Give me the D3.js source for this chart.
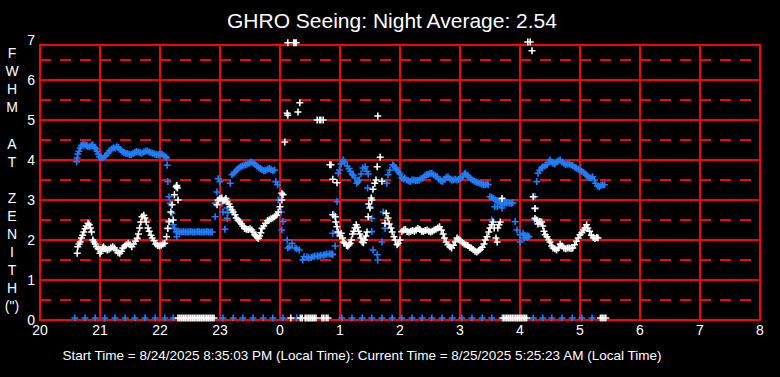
<!DOCTYPE html>
<html>
<head>
<meta charset="utf-8">
<script src="https://cdn.jsdelivr.net/npm/d3@7"></script>
<style>
  body { margin: 0; background: #000; }
  svg { display: block; }
  text { font-family: "Liberation Sans", Arial, sans-serif; fill: #fff; }
</style>
</head>
<body>
<div class="chart-div"></div>
<script>
// hours after 20:00, times past midnight are +24
var titleText = "GHRO Seeing: Night Average: 2.54";
var footText = "Start Time = 8/24/2025 8:35:03 PM (Local Time): Current Time = 8/25/2025 5:25:23 AM (Local Time)";
var yLabelChars = ["F","W","H","M","","A","T","","Z","E","N","I","T","H","(\")"];
var hourTicks = [20,21,22,23,24,25,26,27,28,29,30,31,32];
var valueTicks = [0,1,2,3,4,5,6,7];
var halfTicks = [0.5,1.5,2.5,3.5,4.5,5.5,6.5];

var blueSeeing = [
  [20.61,3.96],[20.62,4.05],[20.63,4.15],[20.65,4.22],[20.67,4.3],[20.69,4.36],[20.72,4.4],[20.75,4.38],[20.78,4.36],[20.8,4.33],
  [20.83,4.33],[20.86,4.36],[20.88,4.38],[20.91,4.32],[20.93,4.28],[20.95,4.22],[20.97,4.15],[20.99,4.08],[21.02,4.05],[21.05,4.05],
  [21.08,4.09],[21.1,4.12],[21.13,4.17],[21.16,4.23],[21.19,4.27],[21.22,4.3],[21.25,4.3],[21.28,4.33],[21.31,4.31],[21.34,4.26],
  [21.37,4.21],[21.4,4.19],[21.43,4.17],[21.46,4.16],[21.49,4.14],[21.52,4.13],[21.55,4.16],[21.58,4.19],[21.61,4.21],[21.64,4.2],
  [21.67,4.18],[21.7,4.17],[21.73,4.2],[21.76,4.22],[21.79,4.23],[21.82,4.2],[21.85,4.18],[21.88,4.17],[21.91,4.15],[21.94,4.13],
  [21.97,4.13],[22.0,4.15],[22.03,4.15],[22.06,4.12],[22.09,4.08],[22.11,4.05],
  [22.12,3.87],[22.13,3.46],[22.15,3.08],[22.17,2.92],[22.2,2.67],[22.22,2.38],[22.24,2.29],[22.27,2.2],[22.28,2.08],[22.3,2.21],
  [22.33,2.2],[22.36,2.2],[22.39,2.21],[22.42,2.2],[22.45,2.2],[22.48,2.2],[22.51,2.21],[22.54,2.2],[22.57,2.2],[22.6,2.2],
  [22.63,2.21],[22.66,2.2],[22.69,2.2],[22.72,2.2],[22.75,2.2],[22.78,2.21],[22.81,2.2],[22.84,2.2],[22.87,2.2],
  [22.92,2.58],[22.92,2.92],[22.95,3.2],[22.97,3.53],[23.0,3.46],[23.03,2.92],[23.05,2.7],[23.12,2.8],[23.13,2.68],[23.12,2.54],
  [23.08,2.27],[23.17,3.42],
  [23.2,3.63],[23.23,3.67],[23.25,3.7],[23.28,3.75],[23.31,3.8],[23.34,3.83],[23.37,3.85],[23.4,3.87],[23.43,3.88],[23.46,3.9],
  [23.49,3.92],[23.52,3.95],[23.55,3.93],[23.58,3.9],[23.61,3.85],[23.64,3.82],[23.67,3.79],[23.7,3.76],[23.73,3.73],[23.76,3.74],
  [23.79,3.77],[23.82,3.79],[23.85,3.76],[23.88,3.73],[23.91,3.75],
  [23.93,3.46],[23.96,3.38],[23.97,3.0],[24.02,2.7],[24.05,2.46],[24.03,2.25],[24.12,2.0],[24.13,1.8],[24.16,1.83],[24.2,1.92],
  [24.25,1.8],[24.28,1.78],[24.32,1.75],[24.38,1.5],[24.4,1.58],[24.45,1.58],[24.48,1.55],[24.52,1.56],[24.55,1.58],[24.58,1.6],
  [24.62,1.6],[24.65,1.6],[24.68,1.62],[24.72,1.62],[24.75,1.63],[24.78,1.65],[24.82,1.65],[24.85,1.65],[24.87,1.65],
  [24.88,1.63],[24.88,2.17],[24.9,2.63],[24.95,2.2],[24.92,1.85],[24.92,2.58],
  [24.95,2.96],[24.97,3.67],[24.99,3.75],[25.02,3.9],[25.05,4.0],[25.08,3.95],[25.12,3.85],[25.15,3.78],[25.17,3.72],[25.2,3.65],
  [25.22,3.62],[25.25,3.55],[25.28,3.42],[25.3,3.46],[25.32,3.5],[25.35,3.65],[25.38,3.8],[25.42,3.83],[25.45,3.72],[25.47,3.65],
  [25.46,3.3],[25.5,2.83],[25.53,2.54],[25.53,2.21],[25.55,1.75],[25.62,1.63],[25.63,1.5],[25.7,1.95],[25.72,2.7],[25.75,2.29],
  [25.78,3.42],[25.8,3.63],[25.83,3.75],[25.88,3.88],[25.9,3.85],[25.93,3.8],[25.95,3.75],[25.98,3.7],[26.0,3.65],[26.03,3.55],
  [26.06,3.52],[26.08,3.55],[26.11,3.5],[26.14,3.48],[26.17,3.46],[26.2,3.5],[26.23,3.5],[26.26,3.48],[26.29,3.49],[26.32,3.5],
  [26.35,3.53],[26.38,3.55],[26.41,3.6],[26.44,3.63],[26.47,3.64],[26.5,3.66],[26.53,3.67],[26.56,3.63],[26.59,3.6],[26.62,3.58],
  [26.65,3.52],[26.68,3.48],[26.71,3.46],[26.74,3.52],[26.77,3.56],[26.8,3.58],[26.83,3.53],[26.86,3.5],[26.89,3.5],[26.92,3.52],
  [26.95,3.5],[26.98,3.51],[27.01,3.54],[27.04,3.58],[27.07,3.65],[27.09,3.67],[27.12,3.62],[27.15,3.57],[27.18,3.53],[27.21,3.5],
  [27.24,3.47],[27.27,3.45],[27.3,3.44],[27.33,3.42],[27.36,3.4],[27.39,3.39],[27.42,3.38],[27.45,3.4],[27.47,3.38],
  [27.5,3.08],[27.53,3.06],[27.56,3.04],[27.59,3.0],[27.62,2.98],[27.65,2.95],[27.68,2.93],[27.71,2.92],[27.74,2.92],[27.77,2.93],
  [27.8,2.93],[27.83,2.92],[27.86,2.92],[27.88,2.93],
  [27.53,2.5],[27.58,2.83],[27.62,2.83],[27.7,2.8],[27.92,2.46],[27.95,2.25],[28.0,1.95],[28.0,2.13],[28.05,2.17],[28.1,2.08],
  [28.13,2.1],[28.07,2.05],[28.08,2.12],[28.12,2.06],[28.15,2.08],[28.24,2.5],[28.25,3.08],
  [28.25,2.79],[28.28,3.46],[28.3,3.67],[28.33,3.75],[28.36,3.8],[28.38,3.83],[28.42,3.86],[28.45,3.88],[28.48,3.95],[28.5,4.0],
  [28.53,3.95],[28.55,3.92],[28.58,3.9],[28.61,3.95],[28.64,3.98],[28.67,4.0],[28.7,3.95],[28.73,3.92],[28.76,3.88],[28.79,3.9],
  [28.82,3.9],[28.85,3.88],[28.88,3.86],[28.91,3.82],[28.94,3.8],[28.97,3.77],[29.0,3.75],[29.03,3.72],[29.06,3.69],[29.09,3.65],
  [29.12,3.6],[29.15,3.56],[29.18,3.55],[29.21,3.58],[29.24,3.5],[29.26,3.42],[29.29,3.35],[29.32,3.33],[29.35,3.36],[29.38,3.38],
  [29.41,3.38]
];

var whiteSeeing = [
  [20.62,1.67],[20.63,1.83],[20.65,1.9],[20.67,1.95],[20.69,2.05],[20.71,2.12],[20.73,2.2],[20.75,2.28],[20.77,2.35],[20.8,2.42],
  [20.82,2.38],[20.84,2.3],[20.86,2.2],[20.88,2.0],[20.9,1.95],[20.92,1.9],[20.94,1.83],[20.97,1.78],[21.0,1.67],[21.02,1.72],
  [21.04,1.8],[21.06,1.83],[21.09,1.78],[21.12,1.75],[21.15,1.77],[21.18,1.8],[21.21,1.83],[21.24,1.8],[21.27,1.74],[21.3,1.68],
  [21.33,1.67],[21.36,1.72],[21.38,1.8],[21.41,1.85],[21.44,1.88],[21.47,1.92],[21.5,1.88],[21.53,1.83],[21.56,1.9],[21.59,1.97],
  [21.62,2.04],[21.64,2.15],[21.66,2.3],[21.68,2.45],[21.7,2.58],[21.73,2.62],[21.75,2.55],[21.77,2.45],[21.8,2.3],[21.82,2.22],
  [21.85,2.12],[21.87,2.05],[21.9,1.98],[21.93,1.9],[21.96,1.86],[21.99,1.85],[22.02,1.87],[22.05,1.9],[22.08,1.92],[22.11,2.08],
  [22.13,2.29],[22.15,2.46],[22.18,2.7],[22.2,2.88],[22.22,2.5],[22.24,3.13],[22.27,3.33],[22.28,3.36],[22.29,3.3],[22.3,3.0],
  [22.95,2.88],[22.97,3.0],[23.0,3.04],[23.03,3.05],[23.05,2.98],[23.08,3.0],[23.1,3.04],[23.12,2.96],[23.15,2.9],[23.17,2.83],
  [23.2,2.75],[23.22,2.7],[23.25,2.63],[23.27,2.55],[23.3,2.5],[23.33,2.46],[23.36,2.4],[23.38,2.35],[23.41,2.29],[23.44,2.27],
  [23.47,2.26],[23.5,2.28],[23.53,2.25],[23.55,2.2],[23.58,2.13],[23.6,2.1],[23.62,2.06],[23.64,2.04],[23.66,2.1],[23.68,2.18],
  [23.7,2.29],[23.73,2.35],[23.76,2.42],[23.79,2.48],[23.82,2.5],[23.85,2.53],[23.88,2.55],[23.91,2.58],[23.94,2.62],[23.97,2.7],
  [24.0,2.83],[24.03,3.0],[24.03,3.17],[24.05,3.13],
  [24.08,4.45],[24.12,5.17],[24.13,5.12],[24.13,6.93],[24.23,6.93],[24.25,6.93],[24.27,6.93],[24.3,5.2],[24.33,5.43],[24.62,5.0],
  [24.66,5.0],[24.68,5.0],[24.72,5.0],
  [24.83,3.88],[24.85,3.88],[24.88,3.52],[24.95,3.43],[24.88,2.63],[24.92,2.58],[24.93,2.45],[24.95,2.33],[24.97,2.2],[25.0,2.1],
  [25.02,2.17],[25.04,2.05],[25.06,1.95],[25.08,1.92],[25.11,1.86],[25.13,1.85],[25.15,1.88],[25.17,1.92],[25.19,2.0],[25.21,2.15],
  [25.23,2.22],[25.25,2.3],[25.27,2.38],[25.29,2.32],[25.31,2.22],[25.33,2.15],[25.35,2.05],[25.37,1.95],[25.39,1.93],[25.41,2.0],
  [25.43,2.1],[25.45,2.2],[25.47,2.58],[25.48,2.9],[25.5,2.8],[25.52,3.05],[25.53,3.0],[25.55,3.27],[25.58,3.42],[25.6,3.5],
  [25.62,3.83],[25.63,5.1],[25.67,4.07],[25.7,3.47],[25.75,2.42],[25.77,2.67],[25.8,2.55],[25.82,2.4],[25.85,2.3],[25.87,2.2],
  [25.9,2.08],[25.92,2.0],[25.95,1.88],[25.97,1.92],[26.0,2.0],[26.03,2.21],[26.06,2.25],[26.09,2.26],[26.12,2.21],[26.15,2.2],
  [26.18,2.22],[26.21,2.24],[26.24,2.22],[26.27,2.25],[26.3,2.29],[26.33,2.26],[26.36,2.22],[26.39,2.21],[26.42,2.24],[26.45,2.25],
  [26.48,2.22],[26.51,2.2],[26.54,2.22],[26.57,2.25],[26.6,2.27],[26.63,2.3],[26.66,2.33],[26.69,2.25],[26.72,2.15],[26.74,2.05],
  [26.77,1.95],[26.8,1.88],[26.83,1.83],[26.86,1.8],[26.89,1.87],[26.92,1.96],[26.95,2.05],[26.98,2.02],[27.01,1.98],[27.04,1.93],
  [27.07,1.9],[27.1,1.88],[27.13,1.86],[27.16,1.82],[27.19,1.8],[27.22,1.76],[27.25,1.72],[27.28,1.7],[27.31,1.73],[27.34,1.77],
  [27.37,1.82],[27.4,1.9],[27.42,2.0],[27.45,2.08],[27.48,2.2],[27.5,2.3],[27.53,2.38],[27.55,2.45],[27.57,2.3],[27.6,2.05],
  [27.62,1.95],[27.63,2.3],[27.65,2.38],[27.67,2.45],[27.7,3.04],
  [28.13,6.95],[28.17,6.95],[28.2,6.73],[28.22,3.08],[28.25,2.79],[28.25,2.54],[28.28,2.5],[28.3,2.4],[28.33,2.46],[28.36,2.45],
  [28.38,2.35],[28.4,2.22],[28.42,2.13],[28.45,2.08],[28.48,2.0],[28.5,1.95],[28.53,1.85],[28.55,1.8],[28.58,1.78],[28.61,1.75],
  [28.64,1.8],[28.67,1.9],[28.7,1.85],[28.73,1.8],[28.76,1.78],[28.79,1.8],[28.82,1.8],[28.85,1.79],[28.88,1.8],[28.91,1.88],
  [28.94,1.97],[28.97,2.05],[29.0,2.13],[29.03,2.18],[29.06,2.25],[29.08,2.3],[29.11,2.38],[29.13,2.3],[29.16,2.22],[29.19,2.12],
  [29.22,2.06],[29.25,2.04],[29.28,2.06],[29.3,2.05]
];

// readings with no seeing value, drawn on the zero line
var blueZero = [20.58,20.75,20.92,21.08,21.25,21.42,21.58,21.75,21.92,22.08,22.22,
  23.05,23.22,23.38,23.55,23.72,23.88,24.05,24.28,
  25.03,25.2,25.37,25.53,25.7,25.87,26.03,26.2,26.37,26.53,26.7,26.87,27.03,27.2,27.37,27.53,27.7,
  28.22,28.38,28.53,28.7,28.87,29.03,29.2];
var whiteZero = [22.30,22.33,22.36,22.39,22.42,22.45,22.48,22.51,22.54,22.57,22.60,22.63,22.66,22.69,22.72,22.75,22.78,22.81,22.84,22.87,22.90,
  24.18,24.34,24.37,24.42,24.45,24.48,24.51,24.54,24.57,24.60,24.70,24.73,24.77,24.80,
  27.72,27.75,27.78,27.81,27.84,27.87,27.90,27.93,27.96,27.99,28.02,28.05,28.08,28.11,
  29.34,29.37,29.40,29.43];

var width = 780, height = 377;
var blue = "#1e7eff", red = "#ff0000";

var svg = d3.select(".chart-div").append("svg")
    .attr("width", width)
    .attr("height", height)
    .style("background", "#000");

var x = d3.scaleLinear().domain([20, 32]).range([40, 760]);
var y = d3.scaleLinear().domain([0, 7]).range([320, 40]);
var frameTop = 6.875;

var grid = svg.append("g").attr("stroke", red).attr("stroke-width", 2);

// dashed half lines
grid.selectAll("line.half").data(halfTicks).enter().append("line")
    .attr("class", "half")
    .attr("x1", x(20)).attr("x2", x(32))
    .attr("y1", d => y(d)).attr("y2", d => y(d))
    .attr("stroke-dasharray", "11,9");

// solid value lines
grid.selectAll("line.val").data(valueTicks.filter(d => d > 0 && d < 7)).enter().append("line")
    .attr("class", "val")
    .attr("x1", x(20)).attr("x2", x(32))
    .attr("y1", d => y(d)).attr("y2", d => y(d));

// hour lines
grid.selectAll("line.hr").data(hourTicks.slice(1, -1)).enter().append("line")
    .attr("class", "hr")
    .attr("x1", d => x(d)).attr("x2", d => x(d))
    .attr("y1", y(0)).attr("y2", y(frameTop));

grid.append("rect")
    .attr("x", x(20)).attr("y", y(frameTop))
    .attr("width", x(32) - x(20)).attr("height", y(0) - y(frameTop))
    .attr("fill", "none");

// plus markers
function plus(px, py) {
  var s = 3.5;
  return "M" + (px - s) + "," + py + "H" + (px + s) + "M" + px + "," + (py - s) + "V" + (py + s);
}

function drawSeries(data, color) {
  svg.append("path")
      .attr("d", data.map(d => plus(x(d[0]), y(d[1]))).join(""))
      .attr("stroke", color)
      .attr("stroke-width", 1.6)
      .attr("fill", "none");
}

drawSeries(blueZero.map(h => [h, 0.05]), blue);
drawSeries(blueSeeing, blue);
drawSeries(whiteZero.map(h => [h, 0.05]), "#fff");
drawSeries(whiteSeeing, "#fff");

// axis labels
svg.append("g").selectAll("text").data(hourTicks).enter().append("text")
    .attr("x", d => x(d))
    .attr("y", 335)
    .attr("text-anchor", "middle")
    .style("font-size", "14px")
    .text(d => d % 24);

svg.append("g").selectAll("text").data(valueTicks).enter().append("text")
    .attr("x", 35)
    .attr("y", d => y(d) + 5)
    .attr("text-anchor", "end")
    .style("font-size", "14px")
    .text(d => d);

svg.append("g").selectAll("text").data(yLabelChars).enter().append("text")
    .attr("x", 12)
    .attr("y", (d, i) => 58 + i * 18.1)
    .attr("text-anchor", "middle")
    .style("font-size", "14px")
    .text(d => d);

svg.append("text")
    .attr("x", 392)
    .attr("y", 28)
    .attr("text-anchor", "middle")
    .style("font-size", "21px")
    .text(titleText);

svg.append("text")
    .attr("x", 362)
    .attr("y", 360)
    .attr("text-anchor", "middle")
    .style("font-size", "13.5px")
    .text(footText);
</script>
</body>
</html>
